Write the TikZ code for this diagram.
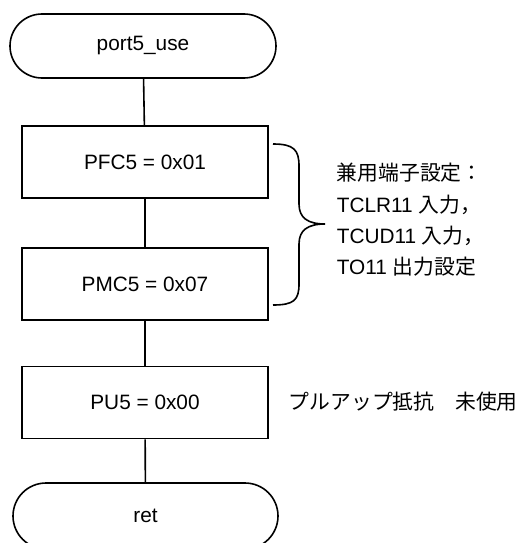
\documentclass[tikz,border=0pt]{standalone}
\usepackage{fontspec}
\setmainfont{Liberation Sans}
\newfontfamily\jp{Noto Sans CJK JP}
\begin{document}
\begin{tikzpicture}[x=1pt,y=-1pt,line width=1.6pt,
  font=\fontsize{20.8}{31.3}\selectfont,
  proc/.style={draw, rectangle, minimum width=246pt, minimum height=72pt, inner sep=0pt},
  term/.style={draw, rectangle, rounded corners=32pt, minimum width=266pt, minimum height=64pt, inner sep=0pt},
  note/.style={anchor=west, align=left, inner sep=0pt}]
\useasboundingbox (0,0) rectangle (527,543);
\node[term] (start) at (143,46) {port5\_use};
\node[proc] (pfc) at (145,162) {PFC5 = 0x01};
\node[proc] (pmc) at (145,284) {PMC5 = 0x07};
\node[proc] (pu) at (145,402.5) {PU5 = 0x00};
\node[term, minimum height=66pt, minimum width=265pt, rounded corners=33pt] (ret) at (145.5,516) {ret};
\draw (start) -- (pfc);
\draw (pfc) -- (pmc);
\draw (pmc) -- (pu);
\draw (pu) -- (ret);
\draw (273,144) .. controls (294,144) and (299,150) .. (299,166) -- (299,204)
  .. controls (299,218) and (308,224) .. (325,224)
  .. controls (308,224) and (299,230) .. (299,244) -- (299,284)
  .. controls (299,300) and (294,305) .. (273,305);
\node[note] (n1) at (336,220) {{\jp 兼用端子設定：}\\TCLR11 {\jp 入力，}\\TCUD11 {\jp 入力，}\\TO11 {\jp 出力設定}};
\node[note] (n2) at (288,402) {{\jp プルアップ抵抗　未使用}};
\end{tikzpicture}
\end{document}
